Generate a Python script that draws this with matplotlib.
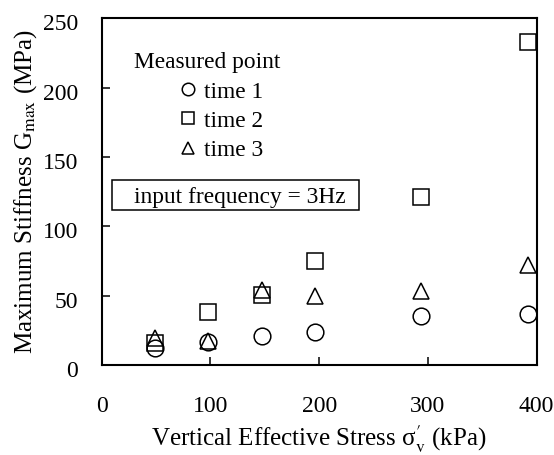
import numpy as np
import matplotlib.pyplot as plt
import matplotlib.transforms as mtransforms
from matplotlib.patches import Rectangle

plt.rcParams['font.family'] = ['Liberation Serif', 'DejaVu Serif']
plt.rcParams['mathtext.fontset'] = 'stix'

# vertical effective stress (kPa) and Gmax (MPa) for each measurement run
stress = [49, 98, 147, 196, 294, 392]
gmax_time1 = [12.6, 16.9, 21.0, 23.8, 35.2, 36.9]
gmax_time2 = [15.7, 38.3, 50.7, 74.7, 121.0, 233.0]
gmax_time3 = [19.5, 17.1, 54.3, 49.5, 53.1, 72.3]

fig = plt.figure(figsize=(5.54, 4.55), dpi=100)
ax = fig.add_axes([0.1836, 0.1978, 0.785, 0.762])

mk = dict(linestyle='none', markerfacecolor='none', markeredgecolor='black',
          markeredgewidth=1.1, clip_on=False)
ax.plot(stress, gmax_time1, marker='o', markersize=12, **mk)
ax.plot(stress, gmax_time2, marker='s', markersize=11, **mk)
ax.plot(stress, gmax_time3, marker='^', markersize=12, **mk)

ax.set_xlim(0, 400)
ax.set_ylim(0, 250)
ax.set_xticks([0, 100, 200, 300, 400])
ax.set_yticks([0, 50, 100, 150, 200, 250])
ax.tick_params(direction='in', length=6, width=1.1, labelsize=17, top=False, right=False)
ax.tick_params(axis='x', pad=22)
ax.tick_params(axis='y', pad=17)
for s in ax.spines.values():
    s.set_linewidth(1.5)

# y tick labels sit a little below their ticks
shift = mtransforms.ScaledTranslation(0, -3 / 72, fig.dpi_scale_trans)
for lab in ax.get_yticklabels():
    lab.set_transform(lab.get_transform() + shift)

ax.set_xlabel("Vertical Effective Stress σ$^{\\prime}_{\\rm v}$ (kPa)", fontsize=18, labelpad=5)
ax.set_ylabel(r"Maximum Stiffness G$_{\rm max}$ (MPa)", fontsize=18, labelpad=3)

# legend block
ax.text(0.0733, 0.872, "Measured point", transform=ax.transAxes, fontsize=16.8, va='center')
h1, = ax.plot([], [], marker='o', markersize=9, **mk)
h2, = ax.plot([], [], marker='s', markersize=9, **mk)
h3, = ax.plot([], [], marker='^', markersize=9, **mk)
ax.legend([h1, h2, h3], ["time 1", "time 2", "time 3"], frameon=False, fontsize=16.8,
          loc='upper left', bbox_to_anchor=(0.156, 0.852), handlelength=0.6,
          handletextpad=0.39, labelspacing=0.33, borderpad=0)

ax.add_patch(Rectangle((0.0246, 0.447), 0.566, 0.087, transform=ax.transAxes,
                       fill=False, edgecolor='black', linewidth=1.1))
ax.text(0.0733, 0.484, "input frequency = 3Hz", transform=ax.transAxes, fontsize=16.8, va='center')

plt.savefig('out.png', dpi=100)
